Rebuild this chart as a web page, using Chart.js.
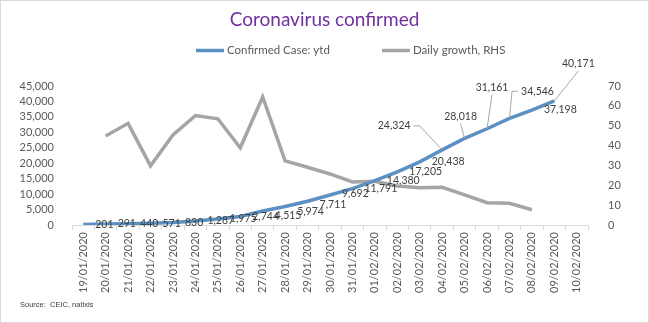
<!DOCTYPE html>
<html>
<head>
<meta charset="utf-8">
<script src="https://cdn.jsdelivr.net/npm/chart.js@4/dist/chart.umd.min.js"></script>
<style>
  html, body { margin: 0; padding: 0; background: #fff; }
  #wrap { width: 649px; height: 323px; position: relative; }
</style>
</head>
<body>
<div id="wrap"><canvas id="cases-chart"></canvas></div>
<script>
const dates = [
  '19/01/2020', '20/01/2020', '21/01/2020', '22/01/2020', '23/01/2020', '24/01/2020',
  '25/01/2020', '26/01/2020', '27/01/2020', '28/01/2020', '29/01/2020', '30/01/2020',
  '31/01/2020', '01/02/2020', '02/02/2020', '03/02/2020', '04/02/2020', '05/02/2020',
  '06/02/2020', '07/02/2020', '08/02/2020', '09/02/2020', '10/02/2020'
];
const confirmed = [
  201, 291, 440, 571, 830, 1287, 1975, 2744, 4515, 5974, 7711, 9692,
  11791, 14380, 17205, 20438, 24324, 28018, 31161, 34546, 37198, 40171, null
];
// daily growth in %, right axis
const dailyGrowth = [
  null, 44.8, 51.2, 29.8, 45.4, 55.1, 53.5, 38.9, 64.5, 32.3, 29.1, 25.7,
  21.7, 22.0, 19.6, 18.8, 19.0, 15.2, 11.2, 10.9, 7.7, null, null
];
const leftTicks = { min: 0, max: 45000, step: 5000 };
const rightTicks = { min: 0, max: 70, step: 10 };

const BLUE = '#5b90c2';
const GREY = '#a5a5a5';
const TEXT = '#595959';

// label placement for the cumulative line (dx = label centre offset, leader = side the leader leaves from)
const labelPlacement = {
  8: { dy: 5 }, 9: { dy: 5 }, 10: { dy: 3 }, 11: { dy: -1 },
  16: { dx: -48, dy: -24, leader: 'right' },
  17: { dx: -4, dy: -22, leader: 'bottom' },
  18: { dx: 5, dy: -41, leader: 'bottom' },
  19: { dx: 28, dy: -27, leader: 'left' },
  21: { dx: 24, dy: -37, leader: 'bottom' }
};

const pointLabels = {
  id: 'pointLabels',
  afterDatasetsDraw(chart) {
    const ctx = chart.ctx;
    const meta = chart.getDatasetMeta(0);
    const values = chart.data.datasets[0].data;
    ctx.save();
    ctx.font = '10.5px Lato';
    ctx.fillStyle = '#404040';
    ctx.textBaseline = 'middle';
    ctx.textAlign = 'left';
    meta.data.forEach((pt, i) => {
      const v = values[i];
      if (v == null) return;
      const text = v.toLocaleString('en-US');
      const w = ctx.measureText(text).width;
      const p = labelPlacement[i] || {};
      const cy = pt.y + (p.dy || 0);
      const left = p.dx !== undefined ? pt.x + p.dx - w / 2 : pt.x + 12;
      ctx.fillText(text, left, cy);
      if (p.leader) {
        ctx.beginPath();
        ctx.strokeStyle = '#a6a6a6';
        ctx.lineWidth = 1;
        if (p.leader === 'right') {
          ctx.moveTo(left + w + 3, cy);
          ctx.lineTo(left + w + 9, cy);
        } else if (p.leader === 'left') {
          ctx.moveTo(left - 3, cy);
          ctx.lineTo(left - 9, cy);
        } else {
          ctx.moveTo(left + w / 2, cy + 7);
        }
        ctx.lineTo(pt.x, pt.y);
        ctx.stroke();
      }
    });
    ctx.restore();
  }
};

// legend, source note and frame
const decorations = {
  id: 'decorations',
  afterDraw(chart) {
    const ctx = chart.ctx;
    ctx.save();
    const legendY = 50.5;
    const items = [
      { color: BLUE, x: 196, text: 'Confirmed Case: ytd' },
      { color: GREY, x: 382, text: 'Daily growth, RHS' }
    ];
    ctx.font = '11.5px Lato';
    ctx.fillStyle = TEXT;
    ctx.textBaseline = 'middle';
    items.forEach(it => {
      ctx.beginPath();
      ctx.strokeStyle = it.color;
      ctx.lineWidth = 3.5;
      ctx.moveTo(it.x, legendY);
      ctx.lineTo(it.x + 28, legendY);
      ctx.stroke();
      ctx.fillText(it.text, it.x + 31, legendY);
    });

    ctx.font = '7.5px "Liberation Sans"';
    ctx.fillStyle = '#404040';
    ctx.fillText('Source:  CEIC, natixis', 20, 305);

    ctx.strokeStyle = '#d9d9d9';
    ctx.lineWidth = 1;
    ctx.strokeRect(0.5, 0.5, 648, 322);
    ctx.restore();
  }
};

new Chart(document.getElementById('cases-chart'), {
  type: 'line',
  data: {
    labels: dates,
    datasets: [
      {
        label: 'Confirmed Case: ytd',
        data: confirmed,
        borderColor: BLUE,
        backgroundColor: BLUE,
        borderWidth: 3.5,
        pointRadius: 0,
        tension: 0,
        yAxisID: 'y'
      },
      {
        label: 'Daily growth, RHS',
        data: dailyGrowth,
        borderColor: GREY,
        backgroundColor: GREY,
        borderWidth: 3.5,
        pointRadius: 0,
        tension: 0,
        yAxisID: 'y1'
      }
    ]
  },
  options: {
    responsive: true,
    maintainAspectRatio: false,
    animation: false,
    layout: { padding: 0 },
    plugins: {
      legend: { display: false },
      tooltip: { enabled: false },
      title: {
        display: true,
        text: 'Coronavirus confirmed',
        color: '#7030a0',
        font: { family: 'Lato', size: 19, weight: 'normal' },
        padding: { top: 8, bottom: 55.2 }
      }
    },
    scales: {
      x: {
        offset: true,
        grid: { offset: true, drawOnChartArea: false, tickLength: 5, color: '#d9d9d9' },
        border: { color: '#d9d9d9' },
        ticks: {
          autoSkip: false, minRotation: 90, maxRotation: 90, padding: 2,
          color: TEXT, font: { family: 'Lato', size: 11 }
        },
        afterFit: scale => { scale.height = 98; }
      },
      y: {
        position: 'left',
        min: leftTicks.min,
        max: leftTicks.max,
        grid: { display: false },
        border: { display: false },
        ticks: {
          autoSkip: false, stepSize: leftTicks.step, padding: 10, color: TEXT,
          font: { family: 'Lato', size: 11 },
          callback: v => v.toLocaleString('en-US')
        },
        afterFit: scale => { scale.width = 72; }
      },
      y1: {
        position: 'right',
        min: rightTicks.min,
        max: rightTicks.max,
        grid: { display: false },
        border: { display: false },
        ticks: {
          autoSkip: false, stepSize: rightTicks.step, padding: 12, color: TEXT,
          font: { family: 'Lato', size: 11 }
        },
        afterFit: scale => { scale.width = 61; }
      }
    }
  },
  plugins: [pointLabels, decorations]
});
</script>
</body>
</html>
